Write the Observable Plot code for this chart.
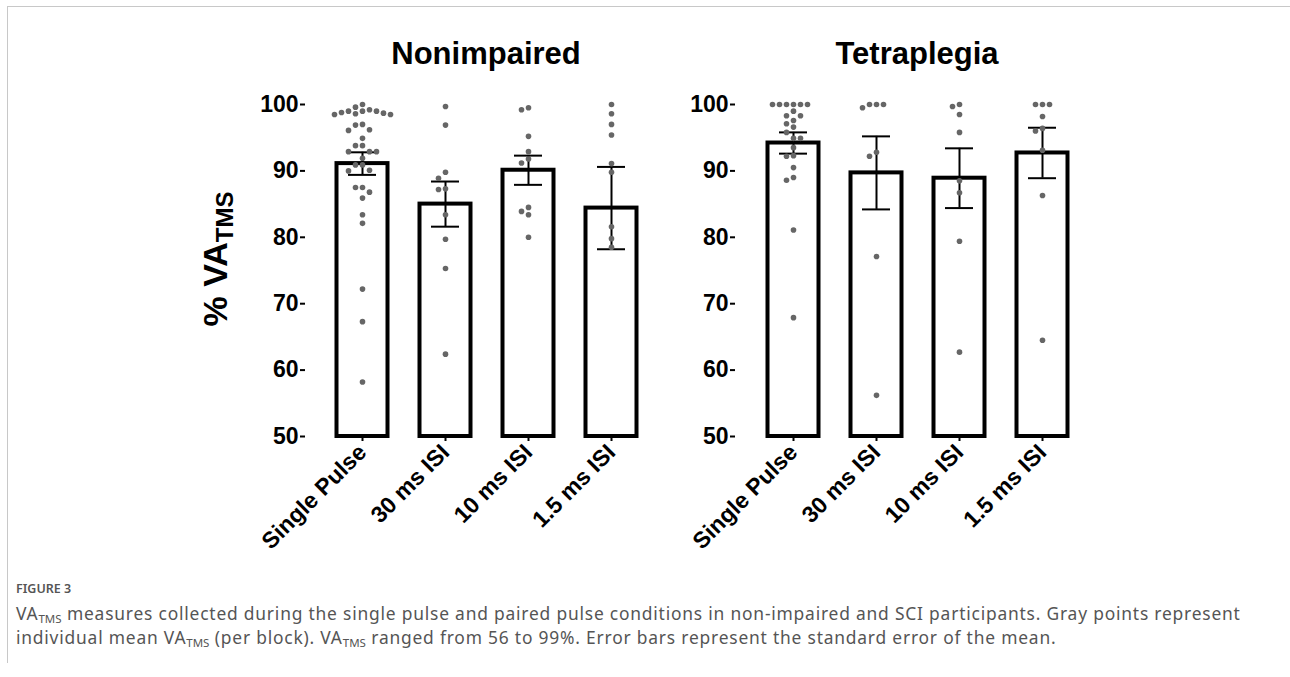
<!DOCTYPE html>
<html><head><meta charset="utf-8">
<script src="https://cdn.jsdelivr.net/npm/d3@7"></script>
<script src="https://cdn.jsdelivr.net/npm/@observablehq/plot@0.6"></script>
<style>
html,body{margin:0;padding:0;background:#fff;}
body{width:1290px;height:677px;position:relative;overflow:hidden;font-family:"Liberation Sans",Arial,sans-serif;}
#frame{position:absolute;left:7px;top:6px;width:1290px;height:656px;border-left:1.5px solid #c8c8c8;border-top:1.5px solid #c8c8c8;}
.panel{position:absolute;top:80px;}
.panel svg{overflow:visible;}
.title{position:absolute;top:36px;font:bold 31px "Liberation Sans",Arial,sans-serif;text-align:center;color:#000;}
#ylabel{position:absolute;left:215px;top:259px;transform:translate(-50%,-50%) rotate(-90deg);font:bold 34px "Liberation Sans",Arial,sans-serif;white-space:nowrap;color:#000;}
#ylabel sub{font-size:24px;vertical-align:baseline;position:relative;top:6px;}
.fig{position:absolute;left:16px;top:580px;font:600 12.5px "Noto Sans",sans-serif;color:#555;}
.cap{position:absolute;left:16px;top:601px;font:17.4px/24px "Noto Sans",sans-serif;letter-spacing:0.8px;color:#555;width:1265px;white-space:nowrap;}
.cap sub{font-size:11.5px;vertical-align:-3px;line-height:0;letter-spacing:0;}
</style>
</head>
<body>
<div id="frame"></div>
<div class="title" id="t1"></div>
<div class="title" id="t2"></div>
<div id="ylabel">% VA<sub>TMS</sub></div>
<div class="panel" id="p1"></div>
<div class="panel" id="p2"></div>
<div class="fig">FIGURE 3</div>
<div class="cap">VA<sub>TMS</sub> measures collected during the single pulse and paired pulse conditions in non-impaired and SCI participants. Gray points represent<br>individual mean VA<sub>TMS</sub> (per block). VA<sub>TMS</sub> ranged from 56 to 99%. Error bars represent the standard error of the mean.</div>
<script>
// ---------- data ----------
const groups = ["Nonimpaired", "Tetraplegia"];
const conditions = ["Single Pulse", "30 ms ISI", "10 ms ISI", "1.5 ms ISI"];
const yDomain = [50, 100];
const yTicks = [50, 60, 70, 80, 90, 100];

const nonimpairedMean = [91.1, 85.0, 90.1, 84.4];
const nonimpairedSem  = [1.7, 3.4, 2.2, 6.2];
const tetraplegiaMean = [94.2, 89.7, 88.9, 92.7];
const tetraplegiaSem  = [1.6, 5.5, 4.5, 3.8];

const nonSingle = [100, 99.6, 99.2, 99.0, 99.0, 99.0, 98.8, 98.7, 98.6, 98.5, 98.5,
  97.0, 96.9, 96.2, 96.1, 94.9, 93.8, 93.8, 92.9, 92.9, 92.9, 91.9,
  90.9, 90.9, 90.1, 90.0, 87.5, 87.5, 86.8, 85.9, 83.4, 82.1, 72.2, 67.3, 58.2];
const non30 = [99.7, 96.9, 89.8, 88.9, 87.3, 87.2, 83.4, 79.7, 75.3, 62.4];
const non10 = [99.5, 99.2, 95.2, 92.9, 91.8, 91.2, 84.5, 83.9, 83.4, 80.0];
const non15 = [100, 98.6, 97.0, 95.4, 91.1, 89.8, 81.6, 79.8, 78.5];

const tetSingle = [100, 100, 100, 100, 100, 100, 99.0, 98.3, 98.3, 97.6, 97.1, 96.6,
  95.8, 94.9, 94.9, 93.5, 92.3, 92.2, 90.5, 89.0, 88.6, 81.1, 67.9];
const tet30 = [100, 100, 100, 99.5, 92.8, 92.2, 77.1, 56.2];
const tet10 = [100, 99.7, 98.5, 95.8, 88.5, 86.7, 79.4, 62.7];
const tet15 = [100, 100, 100, 98.2, 96.4, 96.0, 93.1, 86.3, 64.5];

// ---------- layout ----------
const H = 480, MT = 24, MB = 124;
const panels = [
  {id: "p1", title: "t1", left: 150, width: 522, ml: 155, mr: 5,
   mean: nonimpairedMean, sem: nonimpairedSem, pts: [nonSingle, non30, non10, non15]},
  {id: "p2", title: "t2", left: 672, width: 447, ml: 63, mr: 20,
   mean: tetraplegiaMean, sem: tetraplegiaSem, pts: [tetSingle, tet30, tet10, tet15]}
];

function assignSlots(values, ypx) {
  const placed = [];
  const out = new Array(values.length);
  const order = values.map((v, i) => i).sort((a, b) => values[b] - values[a]);
  for (const i of order) {
    const py = ypx(values[i]);
    for (let k = 0; ; k++) {
      const s = k === 0 ? 0 : (k % 2 ? -(k + 1) / 2 : k / 2);
      if (!placed.some(p => p.s === s && Math.abs(p.py - py) < 6.2)) {
        placed.push({s, py}); out[i] = s; break;
      }
    }
  }
  return out;
}

panels.forEach((p, pi) => {
  const bars = conditions.map((c, i) => ({cond: c, mean: p.mean[i], sem: p.sem[i]}));
  const ypx = d3.scaleLinear(yDomain, [H - MB, MT]);
  const pts = [];
  conditions.forEach((c, i) => {
    const s = assignSlots(p.pts[i], ypx);
    p.pts[i].forEach((v, j) => pts.push({cond: c, v, slot: s[j]}));
  });
  const slotSet = Array.from(new Set(pts.map(d => d.slot))).sort((a, b) => a - b);
  const dotMarks = slotSet.map(s => Plot.dot(pts.filter(d => d.slot === s),
    {x: "cond", y: "v", r: 2.8, fill: "#666666", stroke: "none", dx: s * 7}));

  const chart = Plot.plot({
    width: p.width, height: H,
    marginTop: MT, marginBottom: MB, marginLeft: p.ml, marginRight: p.mr,
    style: {fontFamily: "'Liberation Sans', Arial, sans-serif", fontSize: "23px", fontWeight: "bold",
            color: "#000", background: "transparent", overflow: "visible"},
    x: {domain: conditions, padding: 0.35, label: null},
    y: {domain: yDomain, label: null},
    marks: [
      Plot.barY(bars, {x: "cond", y1: yDomain[0], y2: "mean", fill: "white", stroke: "black",
        strokeWidth: 4, insetLeft: 1.5, insetRight: 1.5}),
      Plot.axisY({ticks: yTicks, tickSize: 5, tickPadding: 2, strokeWidth: 2, line: true, label: null}),
      Plot.axisX({tickRotate: -45, tickSize: 5, tickPadding: 7, strokeWidth: 2, line: true, label: null}),
      Plot.ruleX(bars, {x: "cond", y1: d => d.mean - d.sem, y2: d => d.mean + d.sem, strokeWidth: 2}),
      Plot.tickY(bars, {x: "cond", y: d => d.mean + d.sem, strokeWidth: 2, insetLeft: 13, insetRight: 13}),
      Plot.tickY(bars, {x: "cond", y: d => d.mean - d.sem, strokeWidth: 2, insetLeft: 13, insetRight: 13}),
      ...dotMarks
    ]
  });
  const host = document.getElementById(p.id);
  host.style.left = p.left + "px";
  host.appendChild(chart);
  const t = document.getElementById(p.title);
  t.textContent = groups[pi];
  t.style.left = (p.left + p.ml) + "px";
  t.style.width = (p.width - p.ml - p.mr) + "px";
});
</script>
</body></html>
